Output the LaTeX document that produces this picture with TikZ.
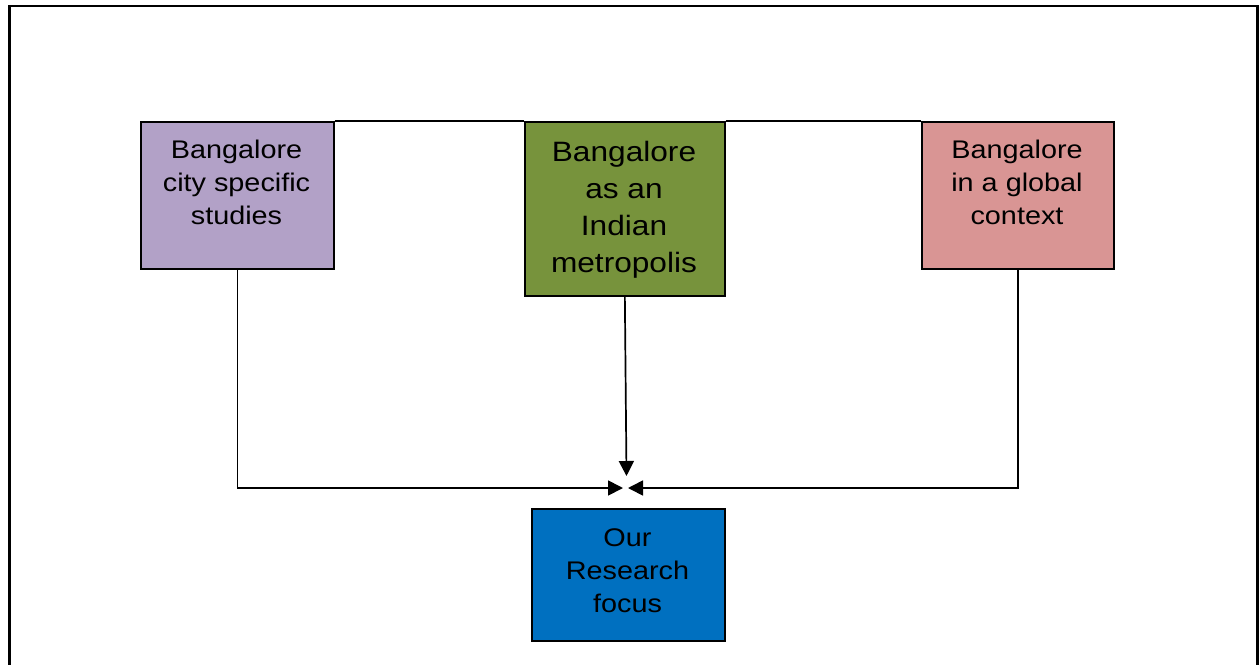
\documentclass[tikz,border=0pt]{standalone}
\usepackage{fontspec}
\usetikzlibrary{arrows.meta}
\newfontfamily\boxfont[FakeStretch=1.13]{Liberation Sans}
\definecolor{lilac}{HTML}{B2A1C7}
\definecolor{olive}{HTML}{77933C}
\definecolor{rose}{HTML}{D99594}
\definecolor{azure}{HTML}{0070C0}
\begin{document}
\begin{tikzpicture}[x=1pt,y=-1pt,
  box/.style={draw=black,line width=1.7pt,inner sep=0pt,anchor=north west},
  label/.style={inner sep=0pt,anchor=north,align=center,text=black},
  conn/.style={draw=black,line width=1.7pt},
  tip/.style={-{Triangle[length=15pt,width=15pt]}}]
\useasboundingbox (0,0) rectangle (1260,664);
% outer frame
\draw[line width=2.8pt] (9.5,680) -- (9.5,6) -- (1257.5,6) -- (1257.5,680);

% boxes
\node[box,fill=lilac,minimum width=193pt,minimum height=147pt] (city) at (140,121) {};
\node[box,fill=olive,minimum width=200pt,minimum height=174pt] (india) at (524,121) {};
\node[box,fill=rose,minimum width=192pt,minimum height=147pt] (global) at (921,121) {};
\node[box,fill=azure,minimum width=193pt,minimum height=132pt] (focus) at (531,508) {};

% box texts
\node[label,font=\boxfont\fontsize{25.5}{33}\selectfont] (tcity) at (236.5,139.5) {Bangalore\\city specific\\studies};
\node[label,font=\boxfont\fontsize{28}{37}\selectfont] (tindia) at (624,141) {Bangalore\\as an\\Indian\\metropolis};
\node[label,font=\boxfont\fontsize{25.5}{33}\selectfont] (tglobal) at (1017,139.5) {Bangalore\\in a global\\context};
\node[label,font=\boxfont\fontsize{25.5}{33}\selectfont] (tfocus) at (627.5,528.5) {Our\\Research\\focus};

% top joining line
\draw[line width=1.5pt] (city.north east) -- (india.north west);
\draw[line width=1.5pt] (india.north east) -- (global.north west);

% arrow targets
\coordinate (tipL) at (623,488);
\coordinate (tipR) at (628,488);
\coordinate (tipD) at (626.5,476);

% connectors
\draw[conn,tip] (city.south) |- (tipL);
\draw[conn,tip] (global.south) |- (tipR);
\draw[conn,tip] (india.south) -- (tipD);
\end{tikzpicture}
\end{document}
